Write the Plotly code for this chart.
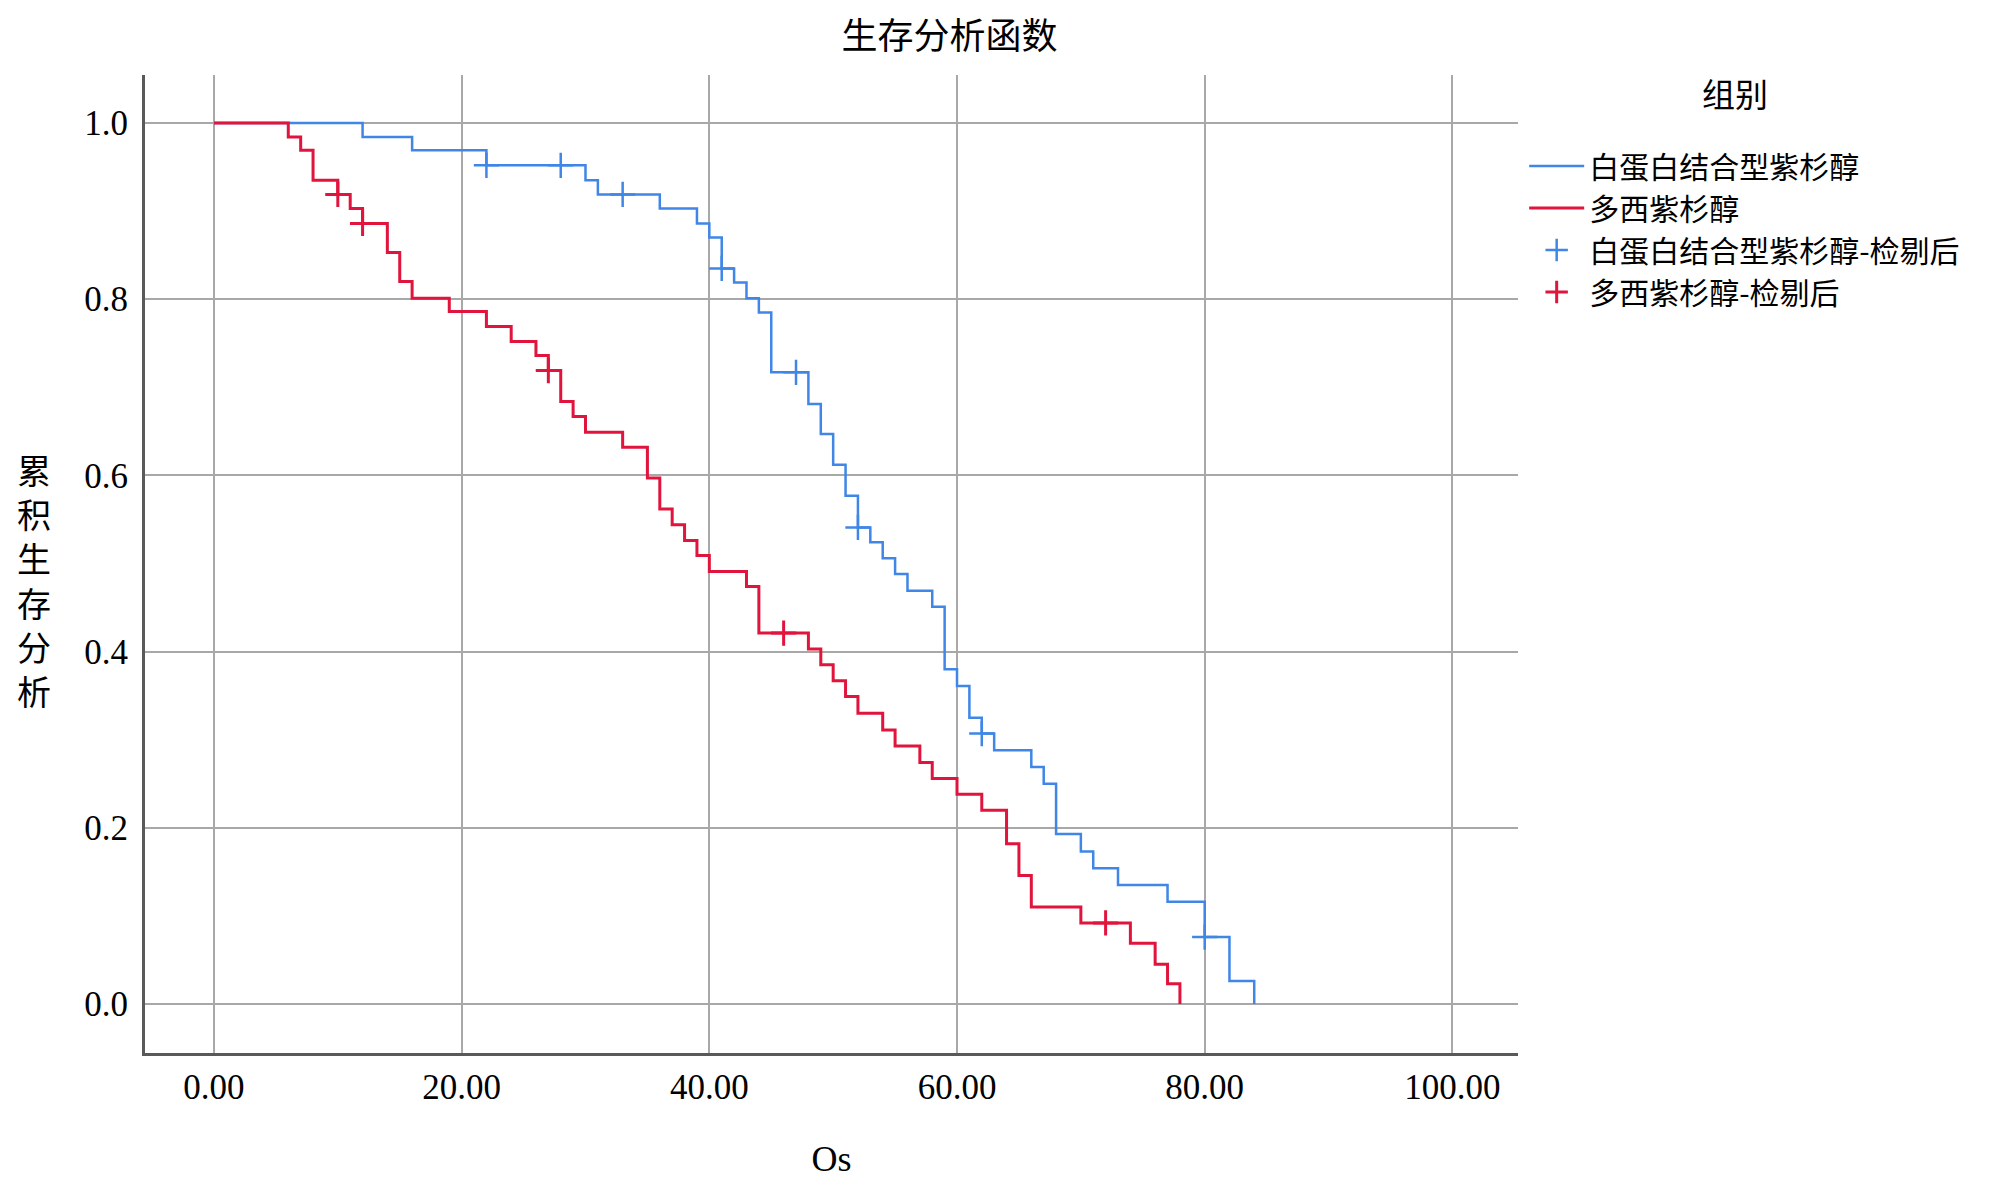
import plotly.graph_objects as go

# Kaplan-Meier steps (months, cumulative survival)
nab_time = [0, 12, 16, 22, 30, 31, 36, 39, 40, 41, 42, 43, 44, 45, 48, 49, 50, 51, 52, 53,
            54, 55, 56, 58, 59, 60, 61, 62, 63, 66, 67, 68, 70, 71, 73, 77, 80, 82, 84]
nab_surv = [1.0, 0.984, 0.969, 0.952, 0.935, 0.919, 0.903, 0.886, 0.870, 0.835,
            0.819, 0.801, 0.785, 0.717, 0.681, 0.647, 0.612, 0.577, 0.541, 0.524,
            0.506, 0.488, 0.469, 0.451, 0.380, 0.361, 0.325, 0.307, 0.288, 0.269,
            0.250, 0.193, 0.173, 0.154, 0.135, 0.116, 0.076, 0.026, 0.0]
nab_cens_time = [22, 28, 33, 41, 47, 52, 62, 80]
nab_cens_surv = [0.952, 0.952, 0.919, 0.835, 0.717, 0.541, 0.307, 0.076]

doc_time = [0, 6, 7, 8, 10, 11, 12, 14, 15, 16, 19, 22, 24, 26, 27, 28, 29, 30, 33, 35,
            36, 37, 38, 39, 40, 43, 44, 48, 49, 50, 51, 52, 54, 55, 57, 58, 60, 62, 64, 65,
            66, 70, 74, 76, 77, 78]
doc_surv = [1.0, 0.984, 0.969, 0.935, 0.919, 0.903, 0.886, 0.853, 0.820, 0.801,
            0.786, 0.769, 0.752, 0.736, 0.719, 0.684, 0.667, 0.649, 0.632, 0.597,
            0.562, 0.544, 0.526, 0.509, 0.491, 0.474, 0.421, 0.403, 0.385, 0.367,
            0.349, 0.330, 0.311, 0.293, 0.274, 0.256, 0.238, 0.220, 0.182, 0.146,
            0.110, 0.092, 0.069, 0.045, 0.023, 0.0]
doc_cens_time = [10, 12, 27, 46, 72]
doc_cens_surv = [0.919, 0.886, 0.719, 0.421, 0.092]

names = ["白蛋白结合型紫杉醇", "多西紫杉醇", "白蛋白结合型紫杉醇-检剔后", "多西紫杉醇-检剔后"]
x_ticks = [0, 20, 40, 60, 80, 100]
y_ticks = [0.0, 0.2, 0.4, 0.6, 0.8, 1.0]

BLUE = "#3f86e6"
RED = "#e0143c"
SERIF = "Liberation Serif, Noto Sans CJK SC"
CJK = "Noto Sans CJK SC, Liberation Serif"

fig = go.Figure()
fig.add_trace(go.Scatter(x=nab_time, y=nab_surv, mode="lines", line_shape="hv",
                         line=dict(color=BLUE, width=2.5), name=names[0]))
fig.add_trace(go.Scatter(x=doc_time, y=doc_surv, mode="lines", line_shape="hv",
                         line=dict(color=RED, width=3), name=names[1]))
fig.add_trace(go.Scatter(x=nab_cens_time, y=nab_cens_surv, mode="markers",
                         marker=dict(symbol="cross-thin", size=18,
                                     line=dict(color=BLUE, width=2.5)),
                         name=names[2]))
fig.add_trace(go.Scatter(x=doc_cens_time, y=doc_cens_surv, mode="markers",
                         marker=dict(symbol="cross-thin", size=18,
                                     line=dict(color=RED, width=3)),
                         name=names[3]))

axis_common = dict(showgrid=True, gridcolor="#a8a8a8", gridwidth=2, zeroline=False,
                   showline=True, linecolor="#595959", linewidth=3,
                   ticks="outside", tickcolor="rgba(0,0,0,0)",
                   tickfont=dict(family=SERIF, size=35, color="black"))

fig.update_xaxes(range=[-5.57, 105.3], tickvals=x_ticks, tickformat=".2f", ticklen=1,
                 title=dict(text="Os", font=dict(family=SERIF, size=36, color="black"),
                            standoff=40),
                 **axis_common)
fig.update_yaxes(range=[-0.0556, 1.0545], tickvals=y_ticks, tickformat=".1f", ticklen=7,
                 **axis_common)

# vertical stacked y-axis title
fig.add_annotation(text="累<br>积<br>生<br>存<br>分<br>析", xref="paper", yref="paper",
                   x=-0.0805, y=0.4836, xanchor="center", yanchor="middle", showarrow=False,
                   font=dict(family=CJK, size=34, color="black"))

# legend title as its own text, the reference leaves a gap under it
fig.add_annotation(text="组别", xref="paper", yref="paper",
                   x=(1727 - 137) / 1373, y=1 - (85 - 67) / 978,
                   xanchor="center", yanchor="middle", showarrow=False,
                   font=dict(family=CJK, size=33, color="black"))

fig.update_layout(
    width=2000, height=1189,
    paper_bgcolor="white", plot_bgcolor="white",
    margin=dict(l=137, r=490, t=67, b=144),
    title=dict(text="生存分析函数", x=0.586, xref="paper", xanchor="center",
               y=0.9765, yanchor="middle", font=dict(family=CJK, size=36, color="black")),
    legend=dict(x=1.0045, y=1 - (132 - 67) / 978, xanchor="left", yanchor="top",
                font=dict(family=CJK, size=30, color="black"),
                itemwidth=55, bgcolor="rgba(0,0,0,0)"),
    showlegend=True,
)

fig.write_html("out.html")
